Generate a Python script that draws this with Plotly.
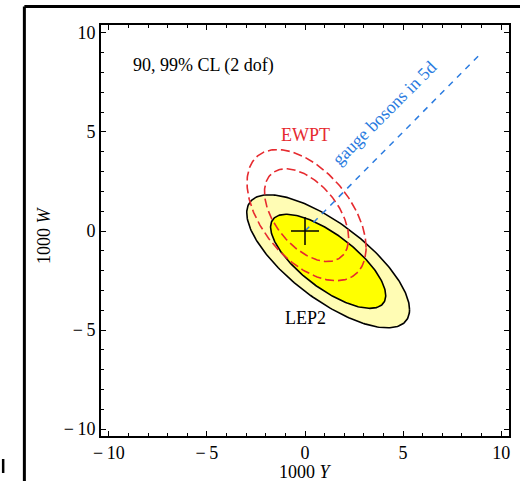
import numpy as np
import plotly.graph_objects as go

# ---- data ----
cl_levels = [0.90, 0.99]                 # confidence levels, 2 dof
lep2_center = [1.18, -1.53]              # (1000 Y, 1000 W)
lep2_cov = [[1.87, -1.10], [-1.10, 1.225]]
ewpt_center = [0.08, 0.80]
ewpt_cov = [[1.00, -0.54], [-0.54, 1.19]]
gauge_y = [0.0, 8.9]                     # "gauge bosons in 5d" direction
gauge_w = [0.0, 8.9]
best_y = [0.0]
best_w = [0.0]
tick_vals = [-10, -5, 0, 5, 10]
tick_text = ["\u2212\u200910", "\u2212\u20095", "0", "5", "10"]

FONT = "Liberation Serif, Times New Roman, serif"


def ellipse(center, cov, cl, n=240):
    chi2 = -2.0 * np.log(1.0 - cl)
    L = np.linalg.cholesky(np.array(cov) * chi2)
    t = np.linspace(0, 2 * np.pi, n)
    pts = L @ np.vstack([np.cos(t), np.sin(t)])
    return center[0] + pts[0], center[1] + pts[1]


fig = go.Figure()

# LEP2 filled regions (99% pale, 90% bright)
for cl, fc in [(cl_levels[1], "#FFFCB4"), (cl_levels[0], "#FFFF00")]:
    x, y = ellipse(lep2_center, lep2_cov, cl)
    fig.add_trace(go.Scatter(x=x, y=y, mode="lines", fill="toself", fillcolor=fc,
                             line=dict(color="black", width=1.6),
                             showlegend=False, hoverinfo="skip"))

# EWPT dashed contours
for cl in cl_levels:
    x, y = ellipse(ewpt_center, ewpt_cov, cl)
    fig.add_trace(go.Scatter(x=x, y=y, mode="lines",
                             line=dict(color="#E62A2F", width=1.6, dash="9px,4px"),
                             showlegend=False, hoverinfo="skip"))

# gauge bosons in 5d line
fig.add_trace(go.Scatter(x=gauge_y, y=gauge_w, mode="lines",
                         line=dict(color="#2A7BE0", width=1.5, dash="6px,6px"),
                         showlegend=False, hoverinfo="skip"))

# best fit cross
fig.add_trace(go.Scatter(x=best_y, y=best_w, mode="markers",
                         marker=dict(symbol="cross-thin", size=20,
                                     line=dict(color="black", width=1.5)),
                         showlegend=False, hoverinfo="skip"))

axis_common = dict(
    tickmode="array", tickvals=tick_vals, ticktext=tick_text,
    showgrid=False, zeroline=False, showline=True, linecolor="black", linewidth=1.6,
    mirror="ticks", ticks="inside", ticklen=5, tickwidth=1, tickcolor="black",
    minor=dict(dtick=1, ticks="inside", ticklen=3, tickwidth=1, tickcolor="black", showgrid=False),
    tickfont=dict(family=FONT, size=18, color="black"),
)

fig.update_layout(
    width=520, height=481,
    margin=dict(l=101, r=9, t=25, b=45),
    paper_bgcolor="white", plot_bgcolor="white",
    xaxis=dict(range=[-10.4, 10.4], **axis_common),
    yaxis=dict(range=[-10.35, 10.4], **axis_common),
    font=dict(family=FONT, size=18, color="black"),
)

annots = [
    dict(x=-5.15, y=8.36, xref="x", yref="y", text="90, 99% CL (2 dof)",
         showarrow=False, font=dict(size=18, color="black")),
    dict(x=0.03, y=4.85, xref="x", yref="y", text="EWPT",
         showarrow=False, font=dict(size=18, color="#E62A2F")),
    dict(x=0.0, y=-4.39, xref="x", yref="y", text="LEP2",
         showarrow=False, font=dict(size=18, color="black")),
    dict(x=4.05, y=5.96, xref="x", yref="y", text="gauge bosons in 5d", textangle=-45,
         showarrow=False, font=dict(size=18, color="#2A7BE0")),
    dict(x=0.5, y=-0.0876, xref="paper", yref="paper", text="1000 <i>Y</i>",
         showarrow=False, xanchor="center", yanchor="middle", font=dict(size=18)),
    dict(x=-0.141, y=0.49, xref="paper", yref="paper", text="1000 <i>W</i>", textangle=-90,
         showarrow=False, xanchor="center", yanchor="middle", font=dict(size=18)),
]
fig.update_layout(annotations=annots)

# outer picture frame
shapes = [
    dict(type="line", xref="paper", yref="paper", x0=-0.1878, x1=-0.1878, y0=1.045, y1=-0.13,
         line=dict(color="black", width=3)),
    dict(type="line", xref="paper", yref="paper", x0=-0.1878, x1=1.05, y0=1.045, y1=1.045,
         line=dict(color="black", width=3)),
    dict(type="line", xref="paper", yref="paper", x0=-0.2398, x1=-0.2398, y0=-0.056, y1=-0.09,
         line=dict(color="black", width=2.5)),
]
fig.update_layout(shapes=shapes)

fig.write_html("out.html", config={"displayModeBar": False},
               post_script="document.body.style.margin='0';document.body.style.overflow='hidden';")
